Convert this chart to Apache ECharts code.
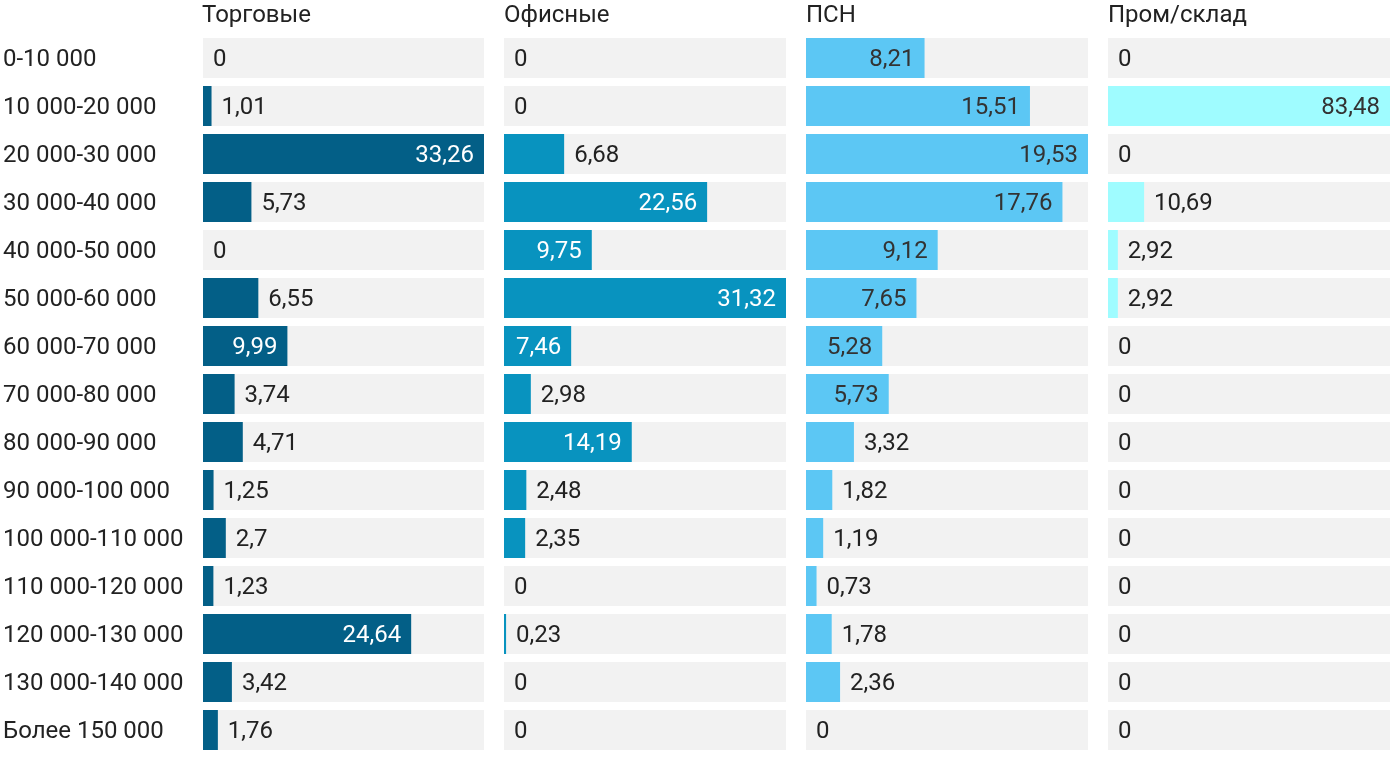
<!DOCTYPE html>
<html><head><meta charset="utf-8">
<script src="https://cdn.jsdelivr.net/npm/echarts@6/dist/echarts.min.js"></script>
<style>html,body{margin:0;padding:0;background:#fff}#c{width:1400px;height:766px}</style>
</head><body><div id="c"></div>
<script>
const categories = ['0-10 000','10 000-20 000','20 000-30 000','30 000-40 000','40 000-50 000','50 000-60 000','60 000-70 000','70 000-80 000','80 000-90 000','90 000-100 000','100 000-110 000','110 000-120 000','120 000-130 000','130 000-140 000','Более 150 000'];
const panelNames = ['Торговые','Офисные','ПСН','Пром/склад'];
const retail = [0,1.01,33.26,5.73,0,6.55,9.99,3.74,4.71,1.25,2.7,1.23,24.64,3.42,1.76];
const office = [0,0,6.68,22.56,9.75,31.32,7.46,2.98,14.19,2.48,2.35,0,0.23,0,0];
const psn = [8.21,15.51,19.53,17.76,9.12,7.65,5.28,5.73,3.32,1.82,1.19,0.73,1.78,2.36,0];
const industrial = [0,83.48,0,10.69,2.92,2.92,0,0,0,0,0,0,0,0,0];

const seriesData = [retail, office, psn, industrial];
const colors = ['#035f87','#0893bf','#5cc7f4','#9ffcff'];
const insideColors = ['#ffffff','#ffffff','#333333','#333333'];
const FONT = 'Roboto';
const FS = 24;
const panelLeft = 202, panelW = 282, panelGap = 20, gridTop = 34, bandH = 48;

const chart = echarts.init(document.getElementById('c'), null, {renderer:'canvas'});
const grids = [], xAxes = [], yAxes = [], series = [], titles = [];
seriesData.forEach((arr, i) => {
  const left = panelLeft + i * (panelW + panelGap);
  const mx = Math.max(...arr);
  grids.push({left: left, width: panelW, top: gridTop, height: bandH * categories.length, containLabel: false});
  xAxes.push({type:'value', gridIndex:i, min:0, max:mx, show:false});
  yAxes.push({type:'category', gridIndex:i, data:categories, inverse:true,
    axisLine:{show:false}, axisTick:{show:false}, splitLine:{show:false},
    axisLabel:{show: i===0, align:'left', margin:200, fontSize:FS, fontFamily:FONT, color:'#222',
      formatter: v => '{c|' + v + '}',
      rich:{c:{fontSize:FS, fontFamily:FONT, color:'#222', padding:[4,0,0,0]}}}});
  titles.push({text: panelNames[i], left: left, top: 4, padding:0, textStyle:{fontSize:FS, fontWeight:'normal', fontFamily:FONT, color:'#222'}});
  series.push({
    type:'bar', xAxisIndex:i, yAxisIndex:i, barWidth:40, animation:false,
    showBackground:true, backgroundStyle:{color:'#f2f2f2'},
    itemStyle:{color: colors[i]},
    data: arr.map(v => {
      const w = v / mx * panelW;
      const inside = w >= 64;
      return {value: v, label: {show:true, position: inside ? 'insideRight' : 'right', distance: 10, offset:[0,2],
        color: inside ? insideColors[i] : '#222', fontSize:FS, fontFamily:FONT,
        formatter: String(v).replace('.', ',')}};
    })
  });
});
chart.setOption({animation:false, title:titles, grid:grids, xAxis:xAxes, yAxis:yAxes, series:series});
</script></body></html>
